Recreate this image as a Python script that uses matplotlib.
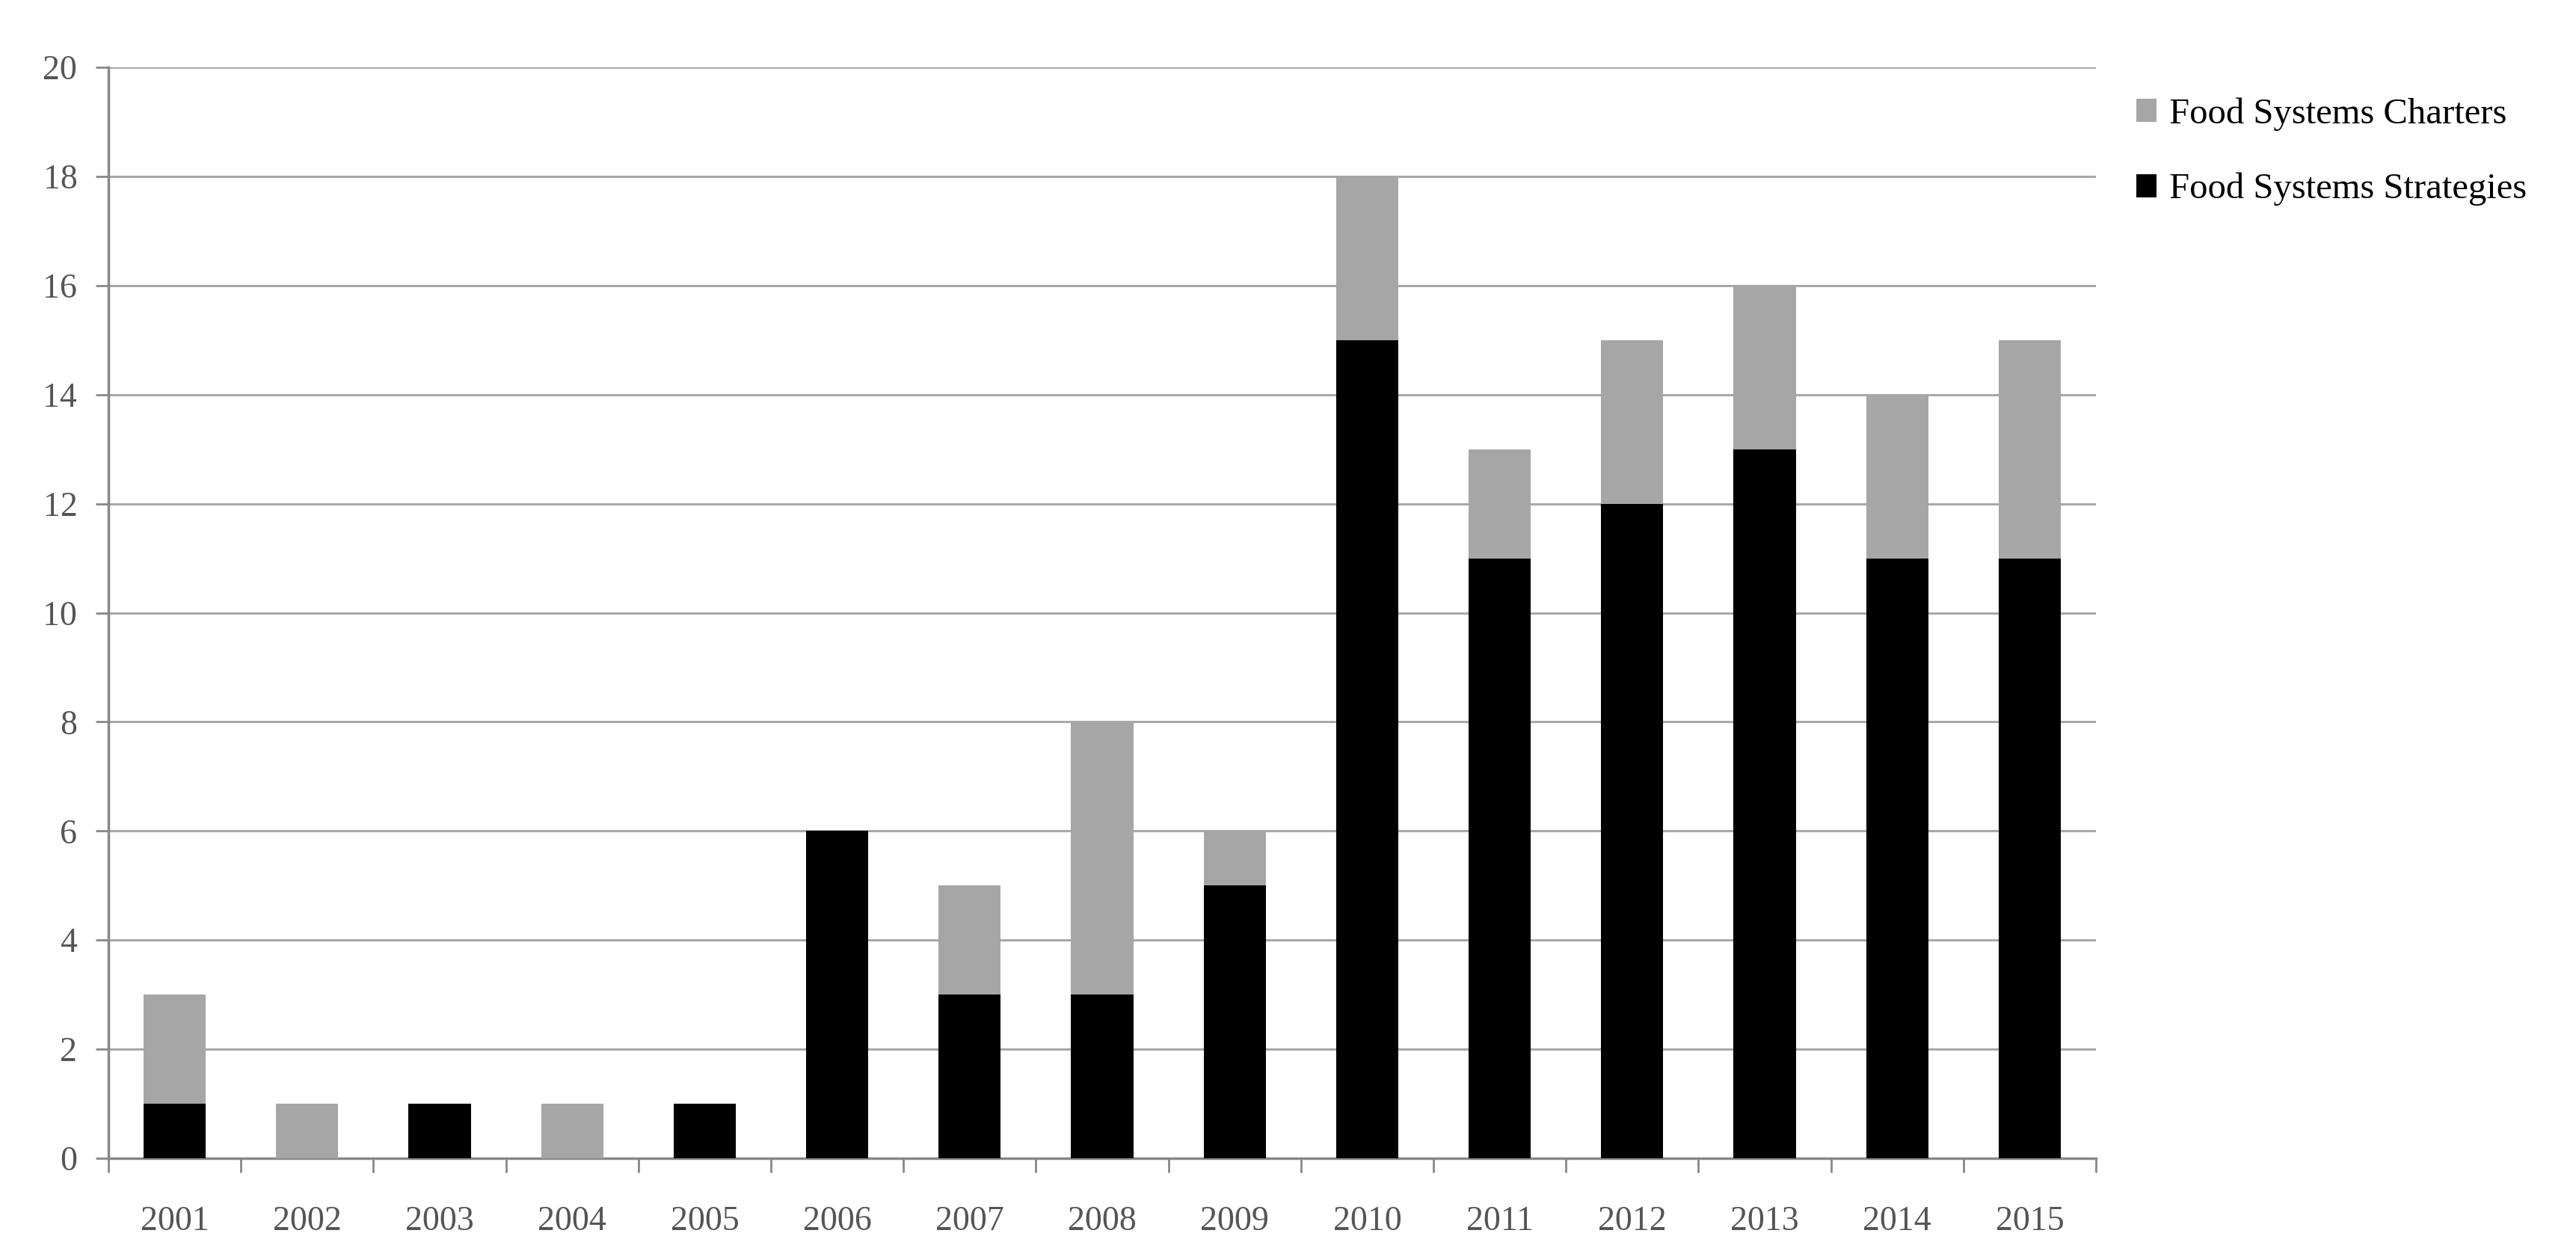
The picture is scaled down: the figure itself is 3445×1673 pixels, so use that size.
import matplotlib.pyplot as plt
import numpy as np

# Data
years = ['2001', '2002', '2003', '2004', '2005', '2006', '2007', '2008',
         '2009', '2010', '2011', '2012', '2013', '2014', '2015']
strategies = [1, 0, 1, 0, 1, 6, 3, 3, 5, 15, 11, 12, 13, 11, 11]
charters = [2, 1, 0, 1, 0, 0, 2, 5, 1, 3, 2, 3, 3, 3, 4]

plt.rcParams['font.family'] = ['Liberation Serif', 'DejaVu Serif']

fig = plt.figure(figsize=(34.45, 16.73), dpi=100)
ax = fig.add_axes([145 / 3445, 1 - 1549 / 1673, (2803 - 145) / 3445, (1549 - 90) / 1673])

x = np.arange(len(years))
w = 0.47
b1 = ax.bar(x, strategies, width=w, color='black', zorder=3, label='Food Systems Strategies')
b2 = ax.bar(x, charters, width=w, bottom=strategies, color='#a6a6a6', zorder=3,
            label='Food Systems Charters')

ax.set_xlim(-0.5, len(years) - 0.5)
ax.set_ylim(0, 20)
ax.set_yticks(np.arange(0, 21, 2))
ax.grid(axis='y', color='#a8a8a8', linewidth=2.2, zorder=0)

ax.set_xticks(x)
ax.set_xticklabels(years)
ax.set_xticks(np.arange(-0.5, len(years), 1), minor=True)
ax.tick_params(axis='x', which='major', length=0, pad=46, labelsize=33, labelcolor='#555555')
ax.tick_params(axis='x', which='minor', length=14, width=2, color='#888888', direction='out')
ax.tick_params(axis='y', length=12, width=2, color='#888888', pad=18, labelsize=33,
               labelcolor='#555555')

for s in ['top', 'right']:
    ax.spines[s].set_visible(False)
for s in ['left', 'bottom']:
    ax.spines[s].set_color('#888888')
    ax.spines[s].set_linewidth(2.5)

fig.legend(handles=[b2, b1], loc='upper left', bbox_to_anchor=(2838 / 3445, 1 - 111 / 1673),
           frameon=False, fontsize=35, handlelength=0.55, handleheight=0.6,
           handletextpad=0.35, labelspacing=1.15, borderaxespad=0)

fig.savefig('out.png', dpi=100)
